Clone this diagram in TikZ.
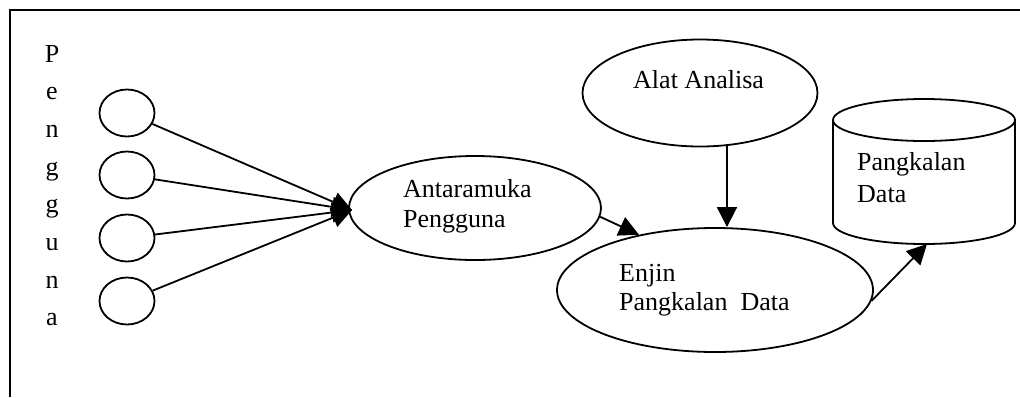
\documentclass[tikz,border=0pt]{standalone}
\usepackage{fontspec}
\setmainfont{Liberation Serif}
\usetikzlibrary{shapes.geometric,arrows.meta}
\begin{document}
\begin{tikzpicture}[x=1pt,y=-1pt,
  lw/.style={line width=1.8pt},
  oval/.style={draw,lw,ellipse,inner sep=0pt},
  user/.style={oval,minimum width=55pt,minimum height=47pt},
  lbl/.style={anchor=base west,inner sep=0pt,font=\fontsize{26}{30}\selectfont},
  letter/.style={anchor=base,inner sep=0pt,font=\fontsize{26}{30}\selectfont},
  arr/.style={lw,-{Triangle[length=20pt,width=20pt]}}]
\useasboundingbox (0,0) rectangle (1020,397);
% frame (top and left only)
\draw[line width=2.2pt] (10,397) -- (10,10) -- (1020,10);
% vertical label
\foreach \c [count=\i from 0] in {P,e,n,g,g,u,n,a}
  \node[letter] (l\i) at (52,62+37.7*\i) {\c};
% user circles
\node[user] (u1) at (127,113) {};
\node[user] (u2) at (127,175) {};
\node[user] (u3) at (127,238) {};
\node[user] (u4) at (127,301) {};
% main ellipses
\node[oval,minimum width=252pt,minimum height=104pt] (ant) at (475,208) {};
\node[oval,minimum width=235pt,minimum height=107pt] (alat) at (700,93) {};
\node[oval,minimum width=316pt,minimum height=124pt] (enj) at (715,290) {};
% texts
\node[lbl] (tant1) at (403,197) {Antaramuka};
\node[lbl] (tant2) at (403,227) {Pengguna};
\node[lbl] (talat) at (633,88) {Alat Analisa};
\node[lbl] (tenj1) at (619,281) {Enjin};
\node[lbl] (tenj2) at (619,310) {Pangkalan\ \ Data};
% cylinder
\coordinate (cl) at (833,120);
\coordinate (cr) at (1015,120);
\coordinate (bl) at (833,223);
\coordinate (br) at (1015,223);
\coordinate (cbot) at (927,244);
\draw[lw] (924,120) ellipse [x radius=91, y radius=21];
\draw[lw] (cl) -- (bl) arc[start angle=180,end angle=360,x radius=91,y radius=-21] -- (cr);
\node[lbl] (tdb1) at (857,170) {Pangkalan};
\node[lbl] (tdb2) at (857,202) {Data};
% connectors
\coordinate (tip) at (352,210);
\foreach \u in {u1,u2,u3,u4}
  \draw[arr] (\u) -- (tip);
\draw[arr] (ant.-4) -- (enj.144);
\draw[arr] (alat.-63) -- (alat.-63 |- enj.north);
\draw[arr] (enj.-4) -- (cbot);
\end{tikzpicture}
\end{document}
